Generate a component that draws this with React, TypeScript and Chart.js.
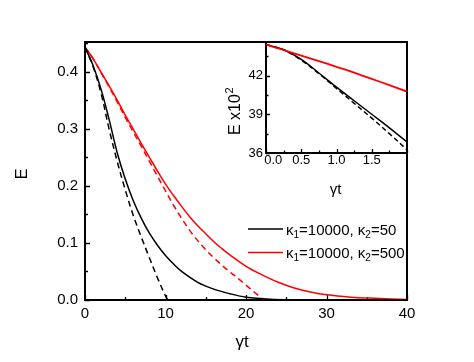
import React, { useEffect, useRef } from "react";
import { Chart, registerables } from "chart.js";

Chart.register(...registerables);

const FONT = "'Liberation Sans', Arial, Helvetica, sans-serif";

// ---- main panel data (E vs γt) ----
const tBlackSolid = [0, 1, 2, 3, 4, 5, 6, 7, 8, 9, 10, 11, 12, 14, 16, 18, 20, 23, 26, 30, 40];
const eBlackSolid = [0.443, 0.411, 0.369, 0.316, 0.258, 0.212, 0.174, 0.143, 0.117, 0.096, 0.078, 0.063, 0.05, 0.031, 0.019, 0.011, 0.005, 0.0015, 0.0005, 0.0002, 0];

const tBlackDashed = [0, 1, 2, 3, 4, 5, 6, 7, 8, 9, 10, 10.3];
const eBlackDashed = [0.443, 0.409, 0.362, 0.299, 0.243, 0.193, 0.148, 0.11, 0.074, 0.039, 0.007, 0];

const tRedSolid = [0, 1, 2, 3, 4, 5, 6, 7, 8, 9, 10, 11, 12, 13, 14, 15, 16, 17, 18, 20, 22, 24, 26, 28, 30, 33, 36, 40];
const eRedSolid = [0.443, 0.423, 0.399, 0.375, 0.35, 0.324, 0.299, 0.274, 0.25, 0.226, 0.203, 0.183, 0.164, 0.146, 0.13, 0.116, 0.102, 0.09, 0.079, 0.059, 0.044, 0.031, 0.021, 0.014, 0.009, 0.005, 0.003, 0.001];

const tRedDashed = [0, 1, 2, 3, 4, 5, 6, 7, 8, 9, 10, 11, 12, 13, 14, 15, 16, 17, 18, 19, 20, 21, 22, 22.3];
const eRedDashed = [0.443, 0.423, 0.398, 0.373, 0.347, 0.32, 0.294, 0.269, 0.243, 0.217, 0.191, 0.166, 0.143, 0.122, 0.104, 0.088, 0.074, 0.061, 0.049, 0.038, 0.026, 0.014, 0.003, 0];

const mainXTicks = [0, 10, 20, 30, 40];
const mainYTicks = [0, 0.1, 0.2, 0.3, 0.4];

// ---- inset data (E x10^2 vs γt) ----
const tInset = [0, 0.25, 0.5, 0.75, 1, 1.25, 1.5, 1.75, 2];
const insetBlackSolid = [44.4, 44.0, 43.25, 42.2, 41.1, 40.05, 39.0, 37.95, 36.85];
const insetBlackDashed = [44.4, 44.0, 43.2, 42.15, 41.0, 39.85, 38.7, 37.5, 36.25];
const insetRed = [44.4, 43.98, 43.55, 43.12, 42.68, 42.22, 41.74, 41.26, 40.76];

const insetXTicks = [0, 0.5, 1, 1.5];
const insetYTicks = [36, 39, 42];

const legendLabels = [
  { color: "#000000", parts: [["κ", false], ["1", true], ["=10000, κ", false], ["2", true], ["=50", false]] },
  { color: "#ff0000", parts: [["κ", false], ["1", true], ["=10000, κ", false], ["2", true], ["=500", false]] },
];

const pts = (xs: number[], ys: number[]) => xs.map((x, i) => ({ x, y: ys[i] }));

function drawInwardTicks(chart: any, xStep: number, yStep: number, majorLen: number, minorLen: number, xMajor: number[], yMajor: number[]) {
  const { ctx, chartArea } = chart;
  const xs = chart.scales.x;
  const ys = chart.scales.y;
  ctx.save();
  ctx.strokeStyle = "#000";
  ctx.lineWidth = 1.3;
  ctx.beginPath();
  for (let v = xs.min; v <= xs.max + 1e-9; v += xStep) {
    const px = Math.round(xs.getPixelForValue(v)) + 0.5;
    const major = xMajor.some((m) => Math.abs(m - v) < 1e-6);
    const len = major ? majorLen : minorLen;
    ctx.moveTo(px, chartArea.bottom);
    ctx.lineTo(px, chartArea.bottom - len);
  }
  for (let v = ys.min; v <= ys.max + 1e-9; v += yStep) {
    const py = Math.round(ys.getPixelForValue(v)) + 0.5;
    const major = yMajor.some((m) => Math.abs(m - v) < 1e-6);
    const len = major ? majorLen : minorLen;
    ctx.moveTo(chartArea.left, py);
    ctx.lineTo(chartArea.left + len, py);
  }
  ctx.stroke();
  ctx.restore();
}

function drawFrame(chart: any) {
  const { ctx, chartArea } = chart;
  ctx.save();
  ctx.strokeStyle = "#000";
  ctx.lineWidth = 2;
  ctx.strokeRect(chartArea.left, chartArea.top, chartArea.right - chartArea.left, chartArea.bottom - chartArea.top);
  ctx.restore();
}

const mainDecor = {
  id: "mainDecor",
  beforeDatasetsDraw(chart: any) {
    drawFrame(chart);
    drawInwardTicks(chart, 5, 0.05, 5, 3, mainXTicks, mainYTicks);
  },
  afterDraw(chart: any) {
    const { ctx, chartArea } = chart;
    ctx.save();
    ctx.fillStyle = "#000";
    // y title
    ctx.font = `16px ${FONT}`;
    ctx.textAlign = "center";
    ctx.textBaseline = "alphabetic";
    ctx.save();
    ctx.translate(chartArea.left - 58, (chartArea.top + chartArea.bottom) / 2 + 3);
    ctx.rotate(-Math.PI / 2);
    ctx.fillText("E", 0, 0);
    ctx.restore();
    // x title
    ctx.font = `17px ${FONT}`;
    ctx.fillText("γt", (chartArea.left + chartArea.right) / 2 - 4, chartArea.bottom + 47);
    // legend
    const lx0 = chartArea.left + 163;
    const lx1 = chartArea.left + 198;
    legendLabels.forEach((item, i) => {
      const y = chartArea.top + 187 + i * 23.5;
      ctx.strokeStyle = item.color;
      ctx.lineWidth = 1.6;
      ctx.beginPath();
      ctx.moveTo(lx0, y);
      ctx.lineTo(lx1, y);
      ctx.stroke();
      let x = lx1 + 3;
      ctx.textAlign = "left";
      ctx.textBaseline = "alphabetic";
      ctx.fillStyle = "#000";
      for (const [txt, sub] of item.parts as [string, boolean][]) {
        if (sub) {
          ctx.font = `10px ${FONT}`;
          ctx.fillText(txt, x, y + 8.5);
        } else {
          ctx.font = `15px ${FONT}`;
          ctx.fillText(txt, x, y + 5.5);
        }
        x += ctx.measureText(txt).width;
      }
    });
    ctx.restore();
  },
};

const insetDecor = {
  id: "insetDecor",
  beforeDraw(chart: any) {
    const { ctx, chartArea } = chart;
    ctx.save();
    ctx.fillStyle = "#fff";
    ctx.fillRect(chartArea.left, chartArea.top, chartArea.right - chartArea.left, chartArea.bottom - chartArea.top);
    ctx.restore();
  },
  beforeDatasetsDraw(chart: any) {
    drawFrame(chart);
    drawInwardTicks(chart, 0.25, 1.5, 4, 2.5, insetXTicks, [36, 39, 42]);
  },
  afterDraw(chart: any) {
    const { ctx, chartArea } = chart;
    ctx.save();
    ctx.fillStyle = "#000";
    // y title with superscript
    ctx.save();
    ctx.translate(chartArea.left - 26, chartArea.bottom - 18);
    ctx.rotate(-Math.PI / 2);
    ctx.textAlign = "left";
    ctx.textBaseline = "alphabetic";
    ctx.font = `16px ${FONT}`;
    const main = "E x10";
    ctx.fillText(main, 0, 0);
    const w = ctx.measureText(main).width;
    ctx.font = `11px ${FONT}`;
    ctx.fillText("2", w + 0.5, -7);
    ctx.restore();
    // x title
    ctx.font = `15px ${FONT}`;
    ctx.textAlign = "center";
    ctx.textBaseline = "alphabetic";
    ctx.fillText("γt", (chartArea.left + chartArea.right) / 2 - 1, chartArea.bottom + 41);
    ctx.restore();
  },
};

export default function App() {
  const mainRef = useRef<HTMLCanvasElement>(null);
  const insetRef = useRef<HTMLCanvasElement>(null);

  useEffect(() => {
    const lineBase = { pointRadius: 0, borderWidth: 1.5, fill: false, tension: 0.35 };
    const main = new Chart(mainRef.current!, {
      type: "line",
      data: {
        datasets: [
          { ...lineBase, label: "κ1=10000, κ2=50", data: pts(tBlackSolid, eBlackSolid), borderColor: "#000000" },
          { ...lineBase, label: "κ1=10000, κ2=50 (dashed)", data: pts(tBlackDashed, eBlackDashed), borderColor: "#000000", borderDash: [6, 4] },
          { ...lineBase, label: "κ1=10000, κ2=500", data: pts(tRedSolid, eRedSolid), borderColor: "#ff0000" },
          { ...lineBase, label: "κ1=10000, κ2=500 (dashed)", data: pts(tRedDashed, eRedDashed), borderColor: "#ff0000", borderDash: [6, 4] },
        ],
      },
      options: {
        animation: false,
        responsive: false,
        layout: { padding: { left: 0, top: 42, right: 67, bottom: 0 } },
        plugins: { legend: { display: false }, tooltip: { enabled: false } },
        scales: {
          x: {
            type: "linear",
            min: 0,
            max: 40,
            afterBuildTicks: (s: any) => {
              s.ticks = mainXTicks.map((v) => ({ value: v }));
            },
            afterFit: (s: any) => {
              s.height = 62;
            },
            grid: { display: false, drawTicks: false },
            border: { display: false },
            ticks: { color: "#000", font: { family: FONT, size: 15 }, padding: 5, maxRotation: 0, callback: (v: any) => String(v) },
          },
          y: {
            type: "linear",
            min: 0,
            max: 0.452,
            afterBuildTicks: (s: any) => {
              s.ticks = mainYTicks.map((v) => ({ value: v }));
            },
            afterFit: (s: any) => {
              s.width = 85;
            },
            grid: { display: false, drawTicks: false },
            border: { display: false },
            ticks: { color: "#000", font: { family: FONT, size: 15 }, padding: 7, callback: (v: any) => Number(v).toFixed(1) },
          },
        },
      },
      plugins: [mainDecor],
    });

    const inset = new Chart(insetRef.current!, {
      type: "line",
      data: {
        datasets: [
          { ...lineBase, label: "red", data: pts(tInset, insetRed), borderColor: "#ff0000", borderWidth: 1.8 },
          { ...lineBase, label: "black dashed", data: pts(tInset, insetBlackDashed), borderColor: "#000000", borderDash: [5, 3] },
          { ...lineBase, label: "black", data: pts(tInset, insetBlackSolid), borderColor: "#000000" },
        ],
      },
      options: {
        animation: false,
        responsive: false,
        layout: { padding: { left: 246, top: 42, right: 67, bottom: 189 } },
        plugins: { legend: { display: false }, tooltip: { enabled: false } },
        scales: {
          x: {
            type: "linear",
            min: 0,
            max: 2,
            afterBuildTicks: (s: any) => {
              s.ticks = insetXTicks.map((v) => ({ value: v }));
            },
            afterFit: (s: any) => {
              s.height = 20;
            },
            grid: { display: false, drawTicks: false },
            border: { display: false },
            ticks: {
              color: "#000",
              font: { family: FONT, size: 13 },
              padding: 0,
              maxRotation: 0,
              autoSkip: false,
              callback: (v: any) => (Number(v) === 0 ? "    0.0" : Number(v).toFixed(1)),
            },
          },
          y: {
            type: "linear",
            min: 36,
            max: 44.6,
            afterBuildTicks: (s: any) => {
              s.ticks = insetYTicks.map((v) => ({ value: v }));
            },
            afterFit: (s: any) => {
              s.width = 20;
            },
            grid: { display: false, drawTicks: false },
            border: { display: false },
            ticks: { color: "#000", font: { family: FONT, size: 13 }, padding: 3, callback: (v: any) => String(v) },
          },
        },
      },
      plugins: [insetDecor],
    });

    return () => {
      main.destroy();
      inset.destroy();
    };
  }, []);

  return (
    <div style={{ position: "fixed", left: 0, top: 0, width: 474, height: 362, background: "#ffffff" }}>
      <canvas ref={mainRef} width={474} height={362} style={{ position: "absolute", left: 0, top: 0 }} />
      <canvas ref={insetRef} width={474} height={362} style={{ position: "absolute", left: 0, top: 0 }} />
    </div>
  );
}
